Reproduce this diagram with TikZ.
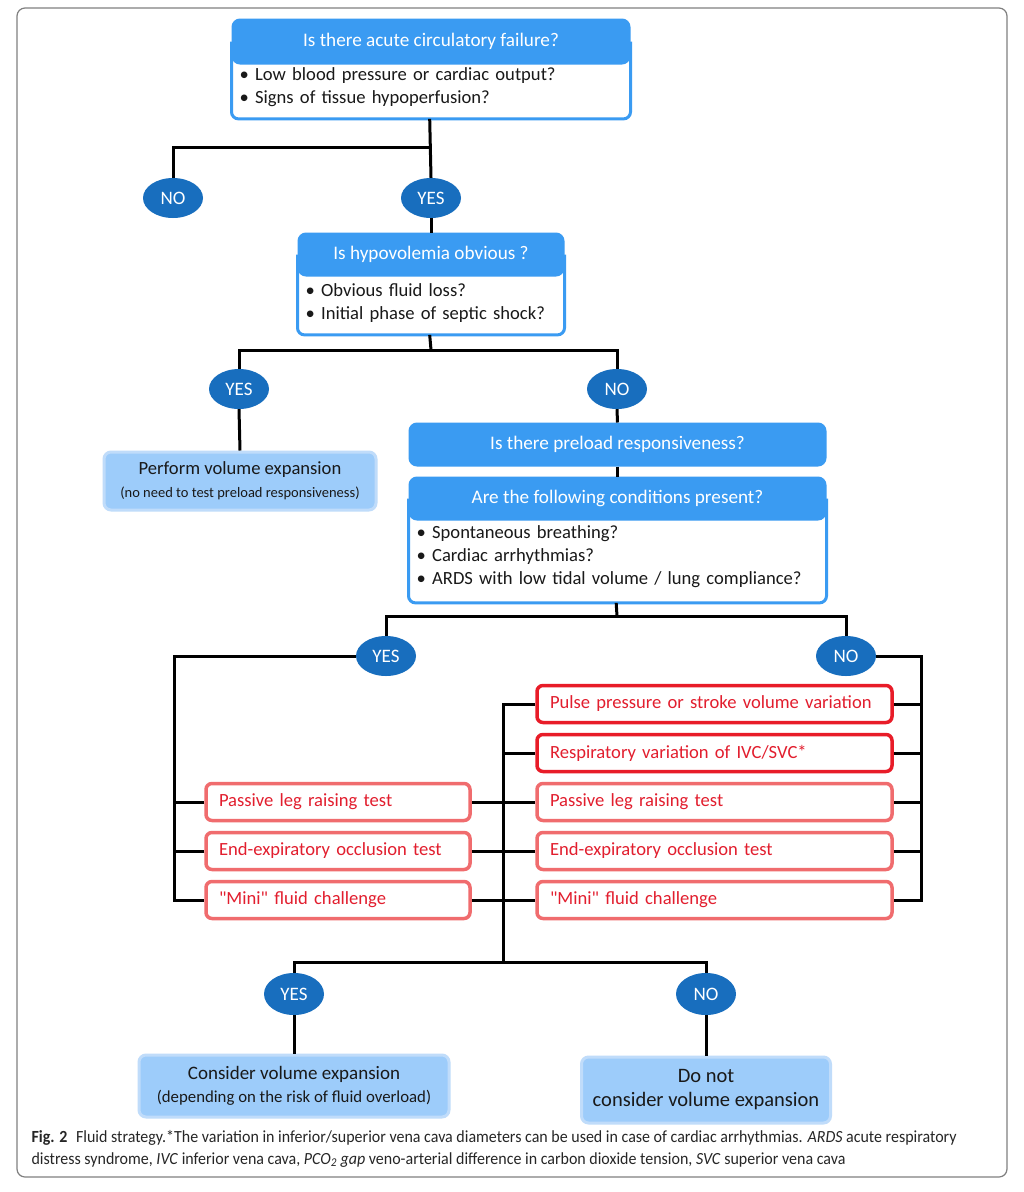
\documentclass[tikz,border=0pt]{standalone}
\usepackage{fontspec}
\setmainfont{Carlito}[Ligatures=TeXReset]
\newfontfamily\capfont[FakeStretch=0.94]{Carlito}
\usetikzlibrary{calc}
\usetikzlibrary{positioning}
\usetikzlibrary{shapes.geometric}

\definecolor{qblue}{RGB}{58,155,242}
\definecolor{ansblue}{RGB}{24,110,190}
\definecolor{resfill}{RGB}{157,204,250}
\definecolor{resdraw}{RGB}{192,220,250}
\definecolor{redhard}{RGB}{232,28,40}
\definecolor{redsoft}{RGB}{240,108,110}
\definecolor{redtext}{RGB}{226,30,46}
\definecolor{txt}{RGB}{25,25,25}

\tikzset{every node/.style={ % Sets the font for every box
           align=center, text=txt,
           font=\fontsize{18.6}{23}\selectfont},
         head/.style={        % Blue title band of a question
           fill=qblue, draw=qblue, line width=3pt,
           rounded corners=7pt, text=white, inner sep=0pt,
           font=\fontsize{19.2}{23}\selectfont},
         body/.style={        % White part under a title band
           align=left, anchor=north west,
           inner xsep=8pt, inner ysep=0pt},
         frame/.style={draw=qblue, line width=3pt, rounded corners=7pt},
         answer/.style={      % YES / NO ellipses
           ellipse, fill=ansblue, text=white, inner sep=0pt,
           minimum width=60pt, minimum height=40pt,
           font=\fontsize{19}{20}\selectfont},
         result/.style={
           fill=resfill, draw=resdraw, line width=3pt,
           rounded corners=7pt, inner sep=0pt},
         test/.style={        % Red boxes with the tests
           draw=redsoft, fill=white, line width=3.5pt,
           rounded corners=6pt, text=redtext, align=left,
           minimum height=37pt, inner xsep=13pt, inner ysep=0pt},
         testhard/.style={test, draw=redhard},
         ltest/.style={test, text width=238pt},
         rtest/.style={test, text width=329pt},
         link/.style={draw, line width=3pt, black}}

\begin{document}
\begin{tikzpicture}[x=1pt, y=-1pt]
  \path[use as bounding box, fill=white] (0,0) rectangle (1024,1192);
  \draw[gray, line width=1.2pt, rounded corners=8pt] (17,8) rectangle (1007,1177);

  % acute circulatory failure
  \node [head, minimum width=396pt, minimum height=43pt] (hfail) at (431,41.5)
    {Is there acute circulatory failure?};
  \node [body, text width=380pt, minimum height=44pt] (bfail) at (hfail.south west) {
    \textbullet\ Low blood pressure or cardiac output? \\
    \textbullet\ Signs of tissue hypoperfusion?
  };
  \coordinate (efail) at ($(bfail.south)+(0,10)$);
  \draw [frame] (hfail.west) -- (hfail.west |- efail)
    -- (hfail.east |- efail) -- (hfail.east);

  \node [answer] (no0) at (173,198) {NO};
  \node [answer] (yes0) at (431,198) {YES};

  % hypovolemia
  \node [head, minimum width=264pt, minimum height=41pt] (hhypo) at (431,254.5)
    {Is hypovolemia obvious ?};
  \node [body, text width=248pt, minimum height=52pt] (bhypo) at (hhypo.south west) {
    \textbullet\ Obvious fluid loss? \\
    \textbullet\ Initial phase of septic shock?
  };
  \coordinate (ehypo) at ($(bhypo.south)+(0,6)$);
  \draw [frame] (hhypo.west) -- (hhypo.west |- ehypo)
    -- (hhypo.east |- ehypo) -- (hhypo.east);

  \node [answer] (yes1) at (239,389) {YES};
  \node [answer] (no1) at (617,389) {NO};

  \node [result, minimum width=272pt, minimum height=58pt] (perform) at (240,481) {
    Perform volume expansion \\
    {\fontsize{14.5}{21}\selectfont (no need to test preload responsiveness)}
  };

  % preload responsiveness
  \node [head, minimum width=415pt, minimum height=41pt] (hpre) at (617.5,444.5)
    {Is there preload responsiveness?};
  \node [head, minimum width=415pt, minimum height=41pt, below=10pt of hpre] (hcond)
    {Are the following conditions present?};
  \node [body, text width=399pt, minimum height=72pt] (bcond) at (hcond.south west) {
    \textbullet\ Spontaneous breathing? \\
    \textbullet\ Cardiac arrhythmias? \\
    \textbullet\ ARDS with low tidal volume / lung compliance?
  };
  \coordinate (econd) at ($(bcond.south)+(0,10)$);
  \draw [frame] (hcond.west) -- (hcond.west |- econd)
    -- (hcond.east |- econd) -- (hcond.east);

  \node [answer] (yes2) at (386,656) {YES};
  \node [answer] (no2) at (846,656) {NO};

  % tests
  \node [ltest] (lplr) at (338,802) {Passive leg raising test};
  \node [ltest] (leeo) at (338,851) {End-expiratory occlusion test};
  \node [ltest] (lmini) at (338,900) {"Mini" fluid challenge};

  \node [rtest, testhard] (rpp) at (714.5,704) {Pulse pressure or stroke volume variation};
  \node [rtest, testhard] (rresp) at (714.5,753) {Respiratory variation of IVC/SVC*};
  \node [rtest] (rplr) at (714.5,802) {Passive leg raising test};
  \node [rtest] (reeo) at (714.5,851) {End-expiratory occlusion test};
  \node [rtest] (rmini) at (714.5,900) {"Mini" fluid challenge};

  \node [answer, minimum height=42pt] (yes3) at (294,994) {YES};
  \node [answer, minimum height=42pt] (no3) at (706,994) {NO};

  \node [result, minimum width=310pt, minimum height=62pt] (consider) at (294,1086) {
    {\fontsize{19}{21}\selectfont Consider volume expansion} \\
    {\fontsize{16.8}{21}\selectfont (depending on the risk of fluid overload)}
  };
  \node [result, minimum width=249pt, minimum height=66pt,
    font=\fontsize{20.5}{24}\selectfont] (donot) at (706,1090) {
    Do not \\
    consider volume expansion
  };

  \coordinate (j0) at (431,147);
  \coordinate (j1) at (431,350);
  \coordinate (j2) at (617,616);
  \coordinate (j3) at (503,962);

  \draw [link] (efail) -- (yes0.north);
  \draw [link] (no0.north) |- (j0);
  \draw [link] (yes0.south) -- (hhypo.north);

  \draw [link] (ehypo) -- (j1);
  \draw [link] (yes1.north) |- (j1) -| (no1.north);
  \draw [link] (yes1.south) -- (perform.north);
  \draw [link] (no1.south) -- (hpre.north);
  \draw [link] (hpre.south) -- (hcond.north);

  \draw [link] (econd) -- (j2);
  \draw [link] (yes2.north) |- (j2) -| (no2.north);

  % YES branch, left bus
  \draw [link] (yes2.west) -| ([xshift=-30pt]lmini.west) -- (lmini.west);
  \draw [link] (lplr.west) -- ++(-30,0);
  \draw [link] (leeo.west) -- ++(-30,0);

  % middle bus
  \draw [link] (rpp.west) -| (j3);
  \draw [link] (rresp.west) -- (rresp.west -| j3);
  \draw [link] (lplr.east) -- (rplr.west);
  \draw [link] (leeo.east) -- (reeo.west);
  \draw [link] (lmini.east) -- (rmini.west);

  % NO branch, right bus
  \draw [link] (no2.east) -| ([xshift=28pt]rmini.east) -- (rmini.east);
  \draw [link] (rpp.east) -- ++(28,0);
  \draw [link] (rresp.east) -- ++(28,0);
  \draw [link] (rplr.east) -- ++(28,0);
  \draw [link] (reeo.east) -- ++(28,0);

  \draw [link] (yes3.north) |- (j3) -| (no3.north);
  \draw [link] (yes3.south) -- (consider.north);
  \draw [link] (no3.south) -- (donot.north);

  \node [anchor=west, align=left, text=black!85,
    font=\capfont\fontsize{17}{21.5}\selectfont] (caption) at (28,1149) {
    \textbf{Fig. 2}\enspace Fluid strategy.*The variation in inferior/superior vena cava diameters can be used in case of cardiac arrhythmias. \textit{ARDS} acute respiratory \\
    distress syndrome, \textit{IVC} inferior vena cava, \textit{PCO\textsubscript{2} gap} veno-arterial difference in carbon dioxide tension, \textit{SVC} superior vena cava
  };

\end{tikzpicture}
\end{document}
